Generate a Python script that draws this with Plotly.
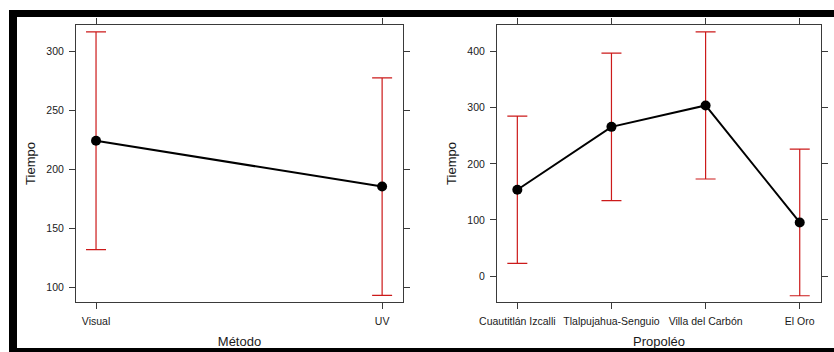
import plotly.graph_objects as go

W, H = 834, 352

# Left panel data
metodo = ["Visual", "UV"]
tiempo_metodo = [224.4, 185.5]
err_metodo = [92.4, 92.3]

# Right panel data
propoleo = ["Cuautitlán Izcalli", "Tlalpujahua-Senguio", "Villa del Carbón", "El Oro"]
tiempo_propoleo = [153.8, 266.0, 304.2, 95.6]
err_propoleo = [131.4, 131.6, 131.2, 130.8]

left_yticks = [100, 150, 200, 250, 300]
right_yticks = [0, 100, 200, 300, 400]

RED = "#cc1a1a"
FONT = "Liberation Sans, Arial, sans-serif"
TXT = "#1a1a1a"

def px_x(a, b):
    return [a / W, b / W]

def px_y(top, bottom):
    return [1 - bottom / H, 1 - top / H]

fig = go.Figure()

fig.add_trace(go.Scatter(
    x=metodo, y=tiempo_metodo, mode="lines+markers",
    line=dict(color="black", width=2),
    marker=dict(color="black", size=10),
    error_y=dict(type="data", array=err_metodo, visible=True, color=RED, thickness=1.2, width=10),
    xaxis="x", yaxis="y", showlegend=False,
))
fig.add_trace(go.Scatter(
    x=propoleo, y=tiempo_propoleo, mode="lines+markers",
    line=dict(color="black", width=2),
    marker=dict(color="black", size=10),
    error_y=dict(type="data", array=err_propoleo, visible=True, color=RED, thickness=1.2, width=10),
    xaxis="x2", yaxis="y2", showlegend=False,
))

axis_common = dict(
    showline=True, mirror="allticks", linecolor="#3a3a3a", linewidth=1,
    ticks="outside", ticklen=6, tickcolor="#3a3a3a", tickwidth=1,
    showgrid=False, zeroline=False, automargin=False,
    tickfont=dict(family=FONT, size=10.5, color=TXT),
)
xcommon = dict(axis_common, ticklabelstandoff=3)
ycommon = dict(axis_common, ticklabelstandoff=3)

fig.update_layout(
    width=W, height=H,
    margin=dict(l=0, r=0, t=0, b=0),
    paper_bgcolor="white", plot_bgcolor="white",
    font=dict(family=FONT, color=TXT),
    xaxis=dict(domain=px_x(76, 403), anchor="y", type="category",
               range=[-0.07, 1.073],
               title=dict(text="Método", font=dict(family=FONT, size=13, color=TXT), standoff=11),
               **xcommon),
    yaxis=dict(domain=px_y(25, 302), anchor="x", range=[87.5, 322.7],
               tickvals=left_yticks,
               title=dict(text="Tiempo", font=dict(family=FONT, size=13, color=TXT), standoff=7),
               **ycommon),
    xaxis2=dict(domain=px_x(497, 821), anchor="y2", type="category",
                range=[-0.216, 3.226],
                title=dict(text="Propoléo", font=dict(family=FONT, size=13, color=TXT), standoff=11),
                **xcommon),
    yaxis2=dict(domain=px_y(25, 302), anchor="x2", range=[-46.3, 447.6],
                tickvals=right_yticks,
                title=dict(text="Tiempo", font=dict(family=FONT, size=13, color=TXT), standoff=7),
                **ycommon),
    shapes=[
        dict(type="rect", xref="paper", yref="paper", x0=9 / W, x1=17 / W, y0=0, y1=1 - 10 / H,
             fillcolor="black", line=dict(width=0), layer="above"),
        dict(type="rect", xref="paper", yref="paper", x0=9 / W, x1=1, y0=1 - 17 / H, y1=1 - 10 / H,
             fillcolor="black", line=dict(width=0), layer="above"),
        dict(type="rect", xref="paper", yref="paper", x0=9 / W, x1=1, y0=0, y1=4 / H,
             fillcolor="black", line=dict(width=0), layer="above"),
    ],
)

fig.write_html("out.html")
